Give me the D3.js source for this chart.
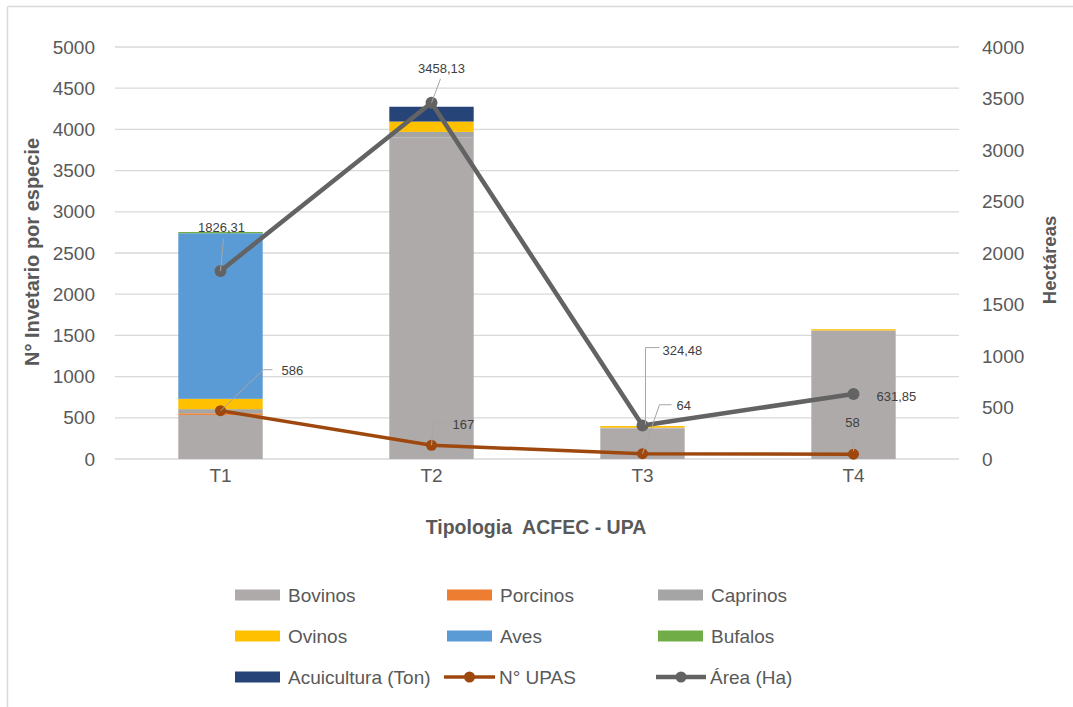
<!DOCTYPE html>
<html>
<head>
<meta charset="utf-8">
<script src="https://cdn.jsdelivr.net/npm/d3@7/dist/d3.min.js"></script>
<style>
  html, body { margin: 0; padding: 0; background: #fff; }
  svg { display: block; font-family: "Liberation Sans", Arial, sans-serif; }
  text { white-space: pre; }
</style>
</head>
<body>
<svg id="chart" width="1073" height="707"></svg>
<script>
// ---- Data ----
const categories = ["T1", "T2", "T3", "T4"];
const seriesNames = ["Bovinos", "Porcinos", "Caprinos", "Ovinos", "Aves", "Bufalos", "Acuicultura (Ton)"];
const bovinos     = [535, 3900, 370, 1560];
const porcinos    = [20, 0, 0, 0];
const caprinos    = [50, 70, 10, 0];
const ovinos      = [125, 125, 20, 15];
const aves        = [2010, 0, 0, 0];
const bufalos     = [15, 0, 0, 0];
const acuicultura = [0, 180, 0, 0];
const upas        = [586, 167, 64, 58];
const area        = [1826.31, 3458.13, 324.48, 631.85];
const leftTicks   = [0, 500, 1000, 1500, 2000, 2500, 3000, 3500, 4000, 4500, 5000];
const rightTicks  = [0, 500, 1000, 1500, 2000, 2500, 3000, 3500, 4000];

// ---- Styles ----
const colors = {
  "Bovinos": "#aeaaaa", "Porcinos": "#ed7d31", "Caprinos": "#a5a5a5",
  "Ovinos": "#ffc000", "Aves": "#5b9bd5", "Bufalos": "#70ad47",
  "Acuicultura (Ton)": "#264478"
};
const upasColor = "#9e480e", areaColor = "#636363";
const textColor = "#595959";

const svg = d3.select("#chart");
const plot = { left: 115, right: 959, top: 47, bottom: 459 };

// frame
svg.append("line").attr("x1", 7.5).attr("x2", 1073).attr("y1", 6.5).attr("y2", 6.5)
  .attr("stroke", "#d9d9d9").attr("stroke-width", 1.5);
svg.append("line").attr("x1", 7.5).attr("x2", 7.5).attr("y1", 6.5).attr("y2", 707)
  .attr("stroke", "#d9d9d9").attr("stroke-width", 1.5);

const x = d3.scaleBand().domain(categories).range([plot.left, plot.right]).paddingInner(0.6).paddingOuter(0.3);
const xc = c => x(c) + x.bandwidth() / 2;
const yL = d3.scaleLinear().domain([0, 5000]).range([plot.bottom, plot.top]);
const yR = d3.scaleLinear().domain([0, 4000]).range([plot.bottom, plot.top]);

// gridlines
svg.append("g").selectAll("line").data(leftTicks).join("line")
  .attr("x1", plot.left).attr("x2", plot.right)
  .attr("y1", d => yL(d)).attr("y2", d => yL(d))
  .attr("stroke", "#d9d9d9").attr("stroke-width", 1.3);

// left axis
const axL = svg.append("g").attr("transform", `translate(${plot.left},0)`)
  .call(d3.axisLeft(yL).tickValues(leftTicks).tickSize(0).tickPadding(20).tickFormat(d3.format("d")));
axL.select(".domain").remove();
axL.selectAll("text").attr("fill", textColor).attr("font-size", 19).attr("font-family", "Liberation Sans, Arial, sans-serif");

// right axis
const axR = svg.append("g").attr("transform", `translate(${plot.right},0)`)
  .call(d3.axisRight(yR).tickValues(rightTicks).tickSize(0).tickPadding(23).tickFormat(d3.format("d")));
axR.select(".domain").remove();
axR.selectAll("text").attr("fill", textColor).attr("font-size", 19).attr("font-family", "Liberation Sans, Arial, sans-serif");

// stacked bars
const table = categories.map((c, i) => ({
  cat: c, "Bovinos": bovinos[i], "Porcinos": porcinos[i], "Caprinos": caprinos[i],
  "Ovinos": ovinos[i], "Aves": aves[i], "Bufalos": bufalos[i], "Acuicultura (Ton)": acuicultura[i]
}));
const stacked = d3.stack().keys(seriesNames)(table);
svg.append("g").selectAll("g").data(stacked).join("g")
  .attr("fill", d => colors[d.key])
  .selectAll("rect").data(d => d).join("rect")
  .attr("x", d => x(d.data.cat))
  .attr("width", x.bandwidth())
  .attr("y", d => yL(d[1]))
  .attr("height", d => yL(d[0]) - yL(d[1]));

// category axis
const axX = svg.append("g").attr("transform", `translate(0,${plot.bottom})`)
  .call(d3.axisBottom(x).tickSize(0).tickPadding(10));
axX.select(".domain").remove();
axX.selectAll("text").attr("fill", textColor).attr("font-size", 19).attr("font-family", "Liberation Sans, Arial, sans-serif");

// lines
const upasLine = d3.line().x((d, i) => xc(categories[i])).y(d => yL(d));
const areaLine = d3.line().x((d, i) => xc(categories[i])).y(d => yR(d));

svg.append("path").datum(upas).attr("d", upasLine).attr("fill", "none")
  .attr("stroke", upasColor).attr("stroke-width", 3.5).attr("stroke-linejoin", "round");
svg.append("g").selectAll("circle").data(upas).join("circle")
  .attr("cx", (d, i) => xc(categories[i])).attr("cy", d => yL(d)).attr("r", 5.5).attr("fill", upasColor);

svg.append("path").datum(area).attr("d", areaLine).attr("fill", "none")
  .attr("stroke", areaColor).attr("stroke-width", 4.5).attr("stroke-linejoin", "round");
svg.append("g").selectAll("circle").data(area).join("circle")
  .attr("cx", (d, i) => xc(categories[i])).attr("cy", d => yR(d)).attr("r", 6).attr("fill", areaColor);

// data labels (offsets relative to the point; leader polylines relative to the point)
const fmt = d => String(d).replace(".", ",");
const areaLabelPos = [
  { dx: 1, dy: -43, anchor: "middle", leader: [[0, 0], [3, -32]] },
  { dx: 10, dy: -34, anchor: "middle", leader: [[0, 0], [9, -24]] },
  { dx: 20, dy: -75, anchor: "start", leader: [[3, -1], [3, -78], [17, -78]] },
  { dx: 23, dy: 3, anchor: "start", leader: null }
];
const upasLabelPos = [
  { dx: 61, dy: -40, anchor: "start", leader: [[0, 0], [43, -41], [52, -41]] },
  { dx: 21, dy: -21, anchor: "start", leader: [[0, 0], [2, -23], [13, -23]] },
  { dx: 34, dy: -48, anchor: "start", leader: [[0, 0], [17, -49], [29, -49]] },
  { dx: -1, dy: -32, anchor: "middle", leader: [[0, -3], [0, -18]] }
];
const leaderG = svg.append("g");
const labelG = svg.append("g");
function addLabels(vals, scale, pos) {
  vals.forEach((v, i) => {
    const px = xc(categories[i]), py = scale(v), p = pos[i];
    if (p.leader) {
      leaderG.append("polyline")
        .attr("points", p.leader.map(([a, b]) => `${px + a},${py + b}`).join(" "))
        .attr("fill", "none").attr("stroke", "#a6a6a6").attr("stroke-width", 1);
    }
    labelG.append("text").attr("x", px + p.dx).attr("y", py + p.dy)
      .attr("text-anchor", p.anchor).attr("dominant-baseline", "central")
      .attr("font-size", 13).attr("fill", "#404040").text(fmt(v));
  });
}
addLabels(area, yR, areaLabelPos);
addLabels(upas, yL, upasLabelPos);

// axis titles
svg.append("text").attr("transform", "translate(32,252) rotate(-90)")
  .attr("text-anchor", "middle").attr("dominant-baseline", "central")
  .attr("font-size", 20).attr("font-weight", "bold").attr("fill", textColor)
  .text("N° Invetario por especie");
svg.append("text").attr("transform", "translate(1049,260) rotate(-90)")
  .attr("text-anchor", "middle").attr("dominant-baseline", "central")
  .attr("font-size", 18.5).attr("font-weight", "bold").attr("fill", textColor)
  .text("Hectáreas");
svg.append("text").attr("x", 536).attr("y", 527)
  .attr("text-anchor", "middle").attr("dominant-baseline", "central")
  .attr("font-size", 19.5).attr("font-weight", "bold").attr("fill", textColor)
  .text("Tipologia  ACFEC - UPA");

// legend
const legendItems = [
  { name: "Bovinos", type: "rect" }, { name: "Porcinos", type: "rect" }, { name: "Caprinos", type: "rect" },
  { name: "Ovinos", type: "rect" }, { name: "Aves", type: "rect" }, { name: "Bufalos", type: "rect" },
  { name: "Acuicultura (Ton)", type: "rect" }, { name: "N° UPAS", type: "line", color: upasColor },
  { name: "Área (Ha)", type: "line", color: areaColor }
];
const colX = [235, 447, 658];
const rowY = [595, 636, 677];
const leg = svg.append("g");
legendItems.forEach((it, i) => {
  const col = i % 3, row = Math.floor(i / 3);
  let sx = colX[col], sy = rowY[row];
  const g = leg.append("g");
  let tx;
  if (it.type === "rect") {
    g.append("rect").attr("x", sx).attr("y", sy - 5.5).attr("width", 45).attr("height", 11)
      .attr("fill", colors[it.name]);
    tx = sx + 53;
  } else {
    const x0 = col === 1 ? 444 : 656, x1 = col === 1 ? 495 : 706;
    g.append("line").attr("x1", x0).attr("x2", x1).attr("y1", sy).attr("y2", sy)
      .attr("stroke", it.color).attr("stroke-width", it.color === upasColor ? 3.5 : 4.5);
    g.append("circle").attr("cx", (x0 + x1) / 2).attr("cy", sy).attr("r", 5.5).attr("fill", it.color);
    tx = x1 + 4;
  }
  g.append("text").attr("x", tx).attr("y", sy).attr("dominant-baseline", "central")
    .attr("font-size", 19).attr("fill", textColor).text(it.name);
});
</script>
</body>
</html>
